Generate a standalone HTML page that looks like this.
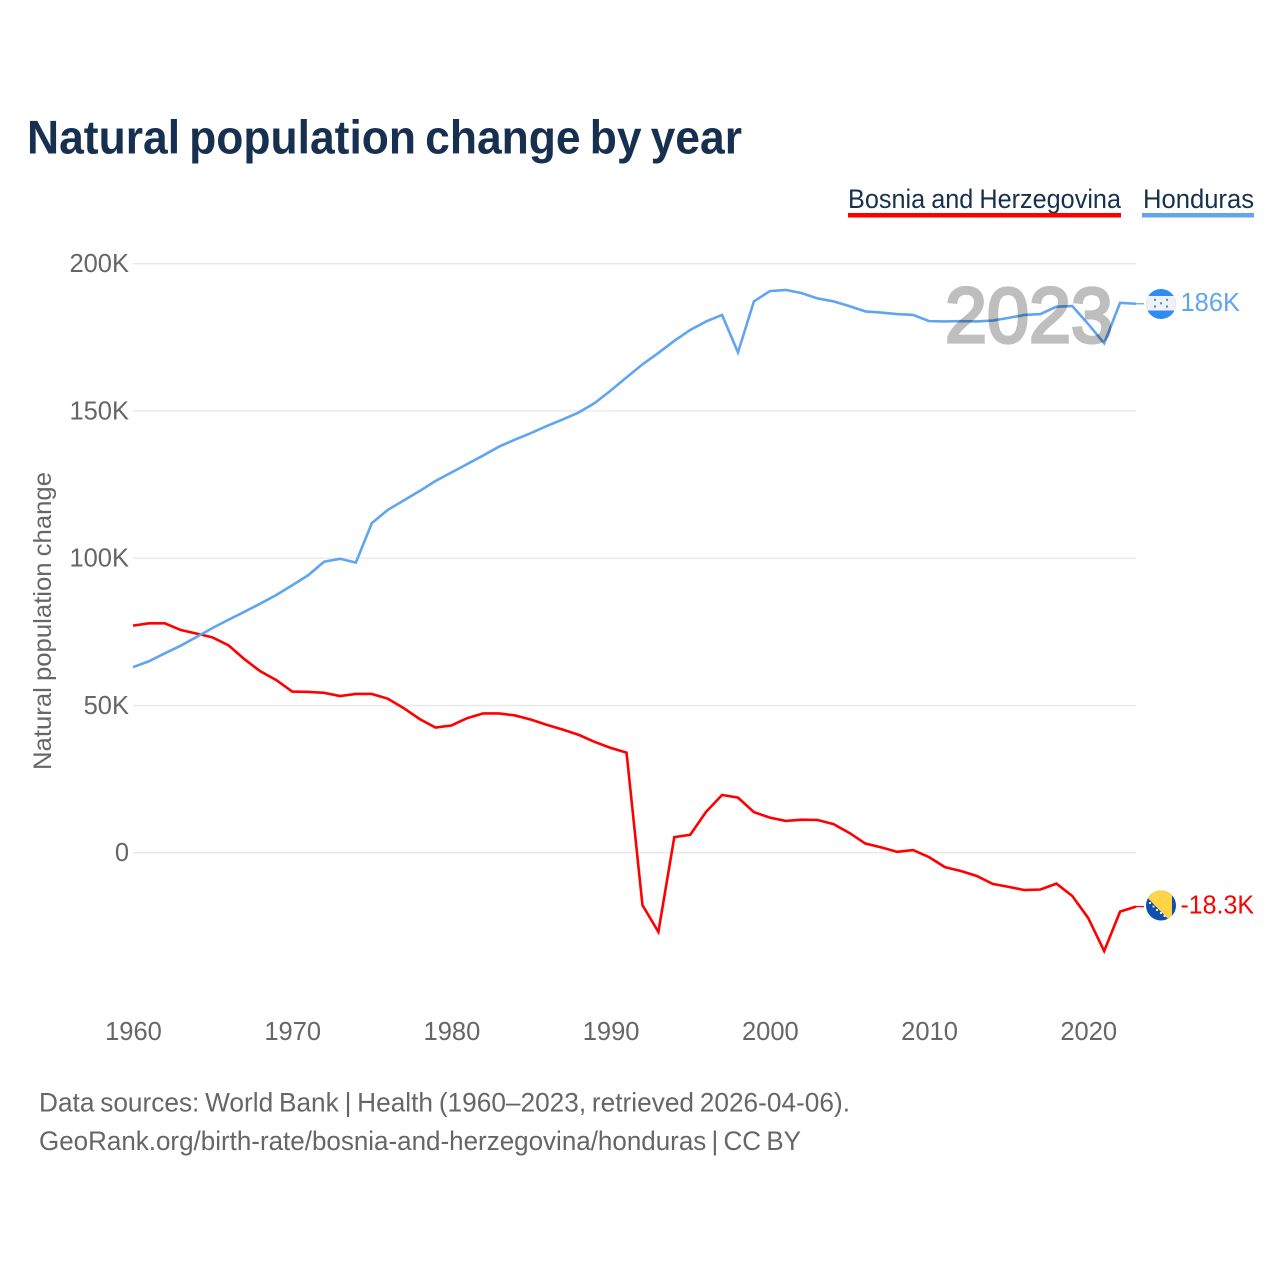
<!DOCTYPE html>
<html lang="en">
<head>
<meta charset="utf-8">
<title>Natural population change by year</title>
<style>
  html, body { margin: 0; padding: 0; background: #fff; }
  svg { display: block; font-family: "Liberation Sans", sans-serif; }
</style>
</head>
<body>
<svg id="chart" xmlns="http://www.w3.org/2000/svg" width="1280" height="1280" viewBox="0 0 1280 1280">
  <rect width="1280" height="1280" fill="#ffffff"/>
  <text x="27" y="153.5" font-size="47.5" font-weight="700" fill="#18304f" word-spacing="-3.5" textLength="715" lengthAdjust="spacingAndGlyphs">Natural population change by year</text>

  <g>
    <g>
      <text x="848" y="208" font-size="27" fill="#18304f" word-spacing="-1" textLength="273" lengthAdjust="spacingAndGlyphs">Bosnia and Herzegovina</text>
      <rect x="848" y="213" width="273" height="4.5" fill="#ff0000"/>
    </g>
    <g>
      <text x="1143" y="208" font-size="27" fill="#18304f" textLength="111" lengthAdjust="spacingAndGlyphs">Honduras</text>
      <rect x="1142" y="213" width="112" height="4.5" fill="#60a5ee"/>
    </g>
  </g>

  <g id="grid"></g>
  <g id="y-ticks"></g>
  <g id="x-ticks"></g>
  <text transform="translate(51,621) rotate(-90)" text-anchor="middle" font-size="25" fill="#666666" word-spacing="-1" textLength="298" lengthAdjust="spacingAndGlyphs">Natural population change</text>

  <g id="series"></g>

  <text x="945" y="342" font-size="78" font-weight="400" fill="#000000" stroke="#000000" stroke-width="3.2" opacity="0.25" textLength="168" lengthAdjust="spacingAndGlyphs">2023</text>

  <defs>
    <clipPath id="clip-hn"><circle cx="1161" cy="304" r="15"/></clipPath>
    <clipPath id="clip-ba"><circle cx="1161" cy="905.5" r="15"/></clipPath>
  </defs>

  <g clip-path="url(#clip-hn)">
    <rect x="1146" y="289" width="30" height="30" fill="#2f8cf5"/>
    <rect x="1146" y="296" width="30" height="14.5" fill="#f1f1f1"/>
    <rect x="1154" y="298.8" width="2" height="2" fill="#2f8cf5"/>
    <rect x="1166" y="298.8" width="2" height="2" fill="#2f8cf5"/>
    <rect x="1160" y="302.3" width="2" height="2" fill="#2f8cf5"/>
    <rect x="1154" y="305.5" width="2" height="2" fill="#2f8cf5"/>
    <rect x="1166" y="305.5" width="2" height="2" fill="#2f8cf5"/>
  </g>
  <g clip-path="url(#clip-ba)">
    <rect x="1146" y="890" width="30" height="31" fill="#0f4fb0"/>
    <polygon points="1140,890 1172,890 1172,923" fill="#ffd545"/>
    <rect x="1149" y="902" width="2" height="2" fill="#e8e8e8"/>
    <rect x="1152.5" y="905.5" width="2" height="2" fill="#e8e8e8"/>
    <rect x="1156" y="909" width="2" height="2" fill="#e8e8e8"/>
    <rect x="1160" y="912" width="2" height="2" fill="#e8e8e8"/>
    <rect x="1163.5" y="915" width="2" height="2" fill="#e8e8e8"/>
  </g>

  <text x="39" y="1111.7" font-size="26.5" fill="#666666" word-spacing="-1.5" textLength="811" lengthAdjust="spacingAndGlyphs">Data sources: World Bank | Health (1960–2023, retrieved 2026-04-06).</text>
  <text x="39" y="1150" font-size="26.5" fill="#666666" word-spacing="-2" textLength="762" lengthAdjust="spacingAndGlyphs">GeoRank.org/birth-rate/bosnia-and-herzegovina/honduras | CC BY</text>
</svg>

<script>
const firstYear = 1960;
const bosniaValues = [77.1,77.9,77.9,75.6,74.4,73.1,70.4,65.7,61.6,58.6,54.7,54.6,54.3,53.2,53.9,53.9,52.3,49.1,45.4,42.5,43.2,45.7,47.3,47.3,46.6,45.2,43.4,41.8,40.0,37.6,35.6,34.0,-17.8,-26.9,5.3,6.1,13.9,19.6,18.7,13.8,11.9,10.8,11.2,11.1,9.7,6.7,3.1,1.8,0.3,0.9,-1.5,-4.9,-6.2,-7.9,-10.6,-11.6,-12.7,-12.5,-10.5,-14.7,-22.2,-33.4,-20.0,-18.3];
const hondurasValues = [63.0,65.0,67.7,70.3,73.3,76.3,79.1,81.8,84.6,87.5,90.8,94.2,98.8,99.8,98.5,111.9,116.4,119.6,122.8,126.2,129.1,132.0,134.9,137.9,140.3,142.5,144.9,147.1,149.5,152.7,156.9,161.4,165.8,169.7,173.8,177.5,180.4,182.6,169.9,187.2,190.7,191.1,190.0,188.2,187.2,185.6,183.8,183.4,182.9,182.6,180.5,180.4,180.5,180.4,180.7,181.6,182.6,182.9,185.4,185.6,179.5,173.0,186.7,186.4];
const xTickYears = [1960,1970,1980,1990,2000,2010,2020];
const yTickValues = [0,50,100,150,200];
const yTickLabels = ["0","50K","100K","150K","200K"];
const bosniaEndLabel = "-18.3K";
const hondurasEndLabel = "186K";

const NS = "http://www.w3.org/2000/svg";
function xScale(year) { return 133 + (year - 1960) * (1136 - 133) / 63; }
function yScale(k) { return 852.7 - k * 2.945; }

function svgEl(tag, attrs, parent) {
  const el = document.createElementNS(NS, tag);
  for (const k in attrs) el.setAttribute(k, attrs[k]);
  parent.appendChild(el);
  return el;
}

const grid = document.getElementById("grid");
const yTicks = document.getElementById("y-ticks");
const xTicks = document.getElementById("x-ticks");
const series = document.getElementById("series");

yTickValues.forEach(function (v, i) {
  const y = yScale(v);
  const line = svgEl("line", { x1: 133, x2: 1136, y1: y, y2: y, stroke: "#e9e9e9", "stroke-width": 1.3 }, grid);
  
  
  const t = svgEl("text", { x: 129, y: y + 8.3, "text-anchor": "end", "font-size": 25.5, fill: "#666666" }, yTicks);
  
  
  t.textContent = yTickLabels[i];
});

xTickYears.forEach(function (yr) {
  const t = svgEl("text", { x: xScale(yr) + 0.5, y: 1040, "text-anchor": "middle", "font-size": 25.5, fill: "#666666" }, xTicks);
  
  
  t.textContent = yr;
});

function drawSeries(values, color, endLabel, labelWidth) {
  const pts = values.map(function (v, i) {
    return xScale(firstYear + i).toFixed(2) + "," + yScale(v).toFixed(2);
  }).join(" ");
  const line = svgEl("polyline", { points: pts, fill: "none", stroke: color, "stroke-width": 2.6, "stroke-linejoin": "miter" }, series);
  
  
  const lastY = yScale(values[values.length - 1]);
  const lastX = xScale(firstYear + values.length - 1);
  const conn = svgEl("line", { x1: lastX, x2: lastX + 8, y1: lastY, y2: lastY, stroke: color, "stroke-width": 1.3 }, series);
  
  
  const lab = svgEl("text", { x: 1180.5, y: lastY + 7, "font-size": 25.5, fill: color, textLength: labelWidth, lengthAdjust: "spacingAndGlyphs" }, series);
  
  
  lab.textContent = endLabel;
}

drawSeries(bosniaValues, "#ff0000", bosniaEndLabel, 73.5);
drawSeries(hondurasValues, "#60a5ee", hondurasEndLabel, 59.5);
</script>
</body>
</html>
